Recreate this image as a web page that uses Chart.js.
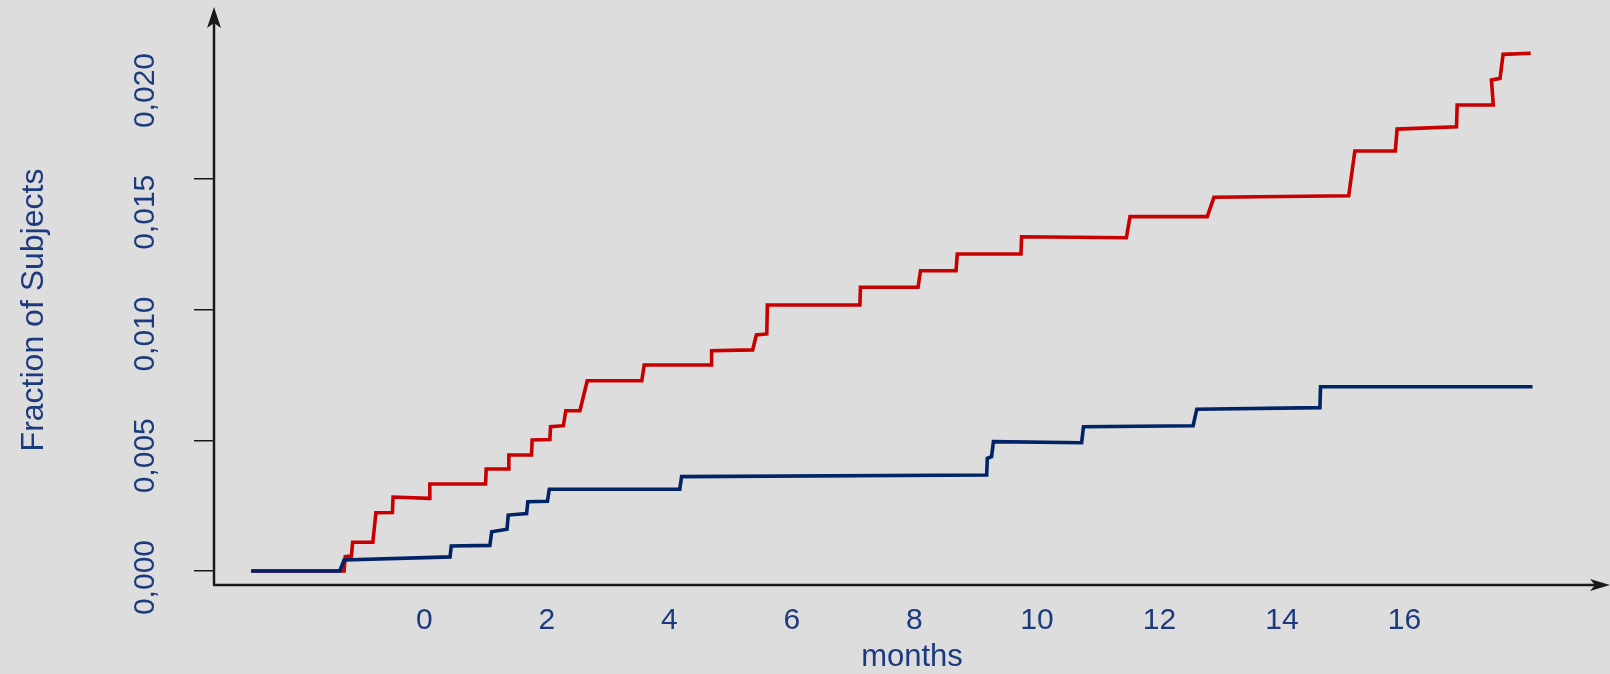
<!DOCTYPE html>
<html>
<head>
<meta charset="utf-8">
<script src="https://cdn.jsdelivr.net/npm/chart.js@4.4.1/dist/chart.umd.min.js"></script>
<style>
  html, body { margin: 0; padding: 0; background: #dddddd; }
  canvas { display: block; }
</style>
</head>
<body>
<canvas id="chart-1" width="1610" height="674"></canvas>
<script>
// months / fraction of subjects
const blueMonths = [-2.82, -1.38, -1.31, 0.42, 0.44, 1.07, 1.10, 1.35, 1.37, 1.67, 1.69, 2.01, 2.04, 4.17, 4.20,
  9.18, 9.19, 9.26, 9.29, 10.73, 10.76, 12.55, 12.61, 14.62, 14.63, 18.09];
const blueValues = [0, 0, 0.00042, 0.00054, 0.00096, 0.00098, 0.00150, 0.00160, 0.00214, 0.00220, 0.00265, 0.00267, 0.00313, 0.00313, 0.00361,
  0.00367, 0.00431, 0.00437, 0.00495, 0.00491, 0.00552, 0.00556, 0.00619, 0.00625, 0.00705, 0.00705];

const redMonths = [-2.83, -1.31, -1.29, -1.19, -1.17, -0.84, -0.79, -0.52, -0.51, 0.08, 0.09, 1.00, 1.01, 1.37, 1.38,
  1.75, 1.76, 2.05, 2.06, 2.27, 2.31, 2.54, 2.66, 3.55, 3.59, 4.68, 4.69, 5.36, 5.42, 5.59, 5.60, 7.11, 7.12,
  8.06, 8.10, 8.68, 8.70, 9.74, 9.75, 11.46, 11.52, 12.78, 12.89, 15.09, 15.19, 15.85, 15.88, 16.85, 16.86,
  17.45, 17.42, 17.56, 17.61, 18.06];
const redValues = [0, 0, 0.00055, 0.00057, 0.00110, 0.00110, 0.00223, 0.00224, 0.00283, 0.00278, 0.00333, 0.00333, 0.00390, 0.00390, 0.00444,
  0.00444, 0.00501, 0.00503, 0.00552, 0.00556, 0.00613, 0.00613, 0.00728, 0.00728, 0.00788, 0.00788, 0.00843, 0.00846, 0.00903, 0.00907, 0.01018, 0.01018, 0.01086,
  0.01086, 0.01149, 0.01149, 0.01213, 0.01213, 0.01279, 0.01275, 0.01356, 0.01356, 0.01430, 0.01436, 0.01607, 0.01607, 0.01691, 0.01700, 0.01783,
  0.01783, 0.01879, 0.01885, 0.01977, 0.01981];

const xTicks = [0, 2, 4, 6, 8, 10, 12, 14, 16];
const yTickLabels = [0, 0.005, 0.010, 0.015, 0.020];
const yTickMarks = [0, 0.005, 0.010, 0.015];

const textColor = "#1c3a7e";
const fontFamily = "'Liberation Sans', Arial, sans-serif";

function toPoints(xs, ys) {
  return xs.map((x, i) => ({x: x, y: ys[i]}));
}

function noPadding(scale) {
  scale.paddingTop = 0;
  scale.paddingBottom = 0;
  scale.paddingLeft = 0;
  scale.paddingRight = 0;
}

// axis lines with arrow heads
const arrowAxes = {
  id: "arrowAxes",
  afterDraw(chart) {
    const ctx = chart.ctx;
    const a = chart.chartArea;
    ctx.save();
    ctx.strokeStyle = "#1a1a1a";
    ctx.fillStyle = "#1a1a1a";
    ctx.lineWidth = 2.5;
    ctx.beginPath();
    ctx.moveTo(a.left, a.bottom);
    ctx.lineTo(a.left, 20);
    ctx.moveTo(a.left - 1, a.bottom);
    ctx.lineTo(chart.width - 12, a.bottom);
    ctx.stroke();
    // y arrow
    ctx.beginPath();
    ctx.moveTo(a.left, 7);
    ctx.lineTo(a.left + 7, 28);
    ctx.lineTo(a.left, 23);
    ctx.lineTo(a.left - 7, 28);
    ctx.closePath();
    ctx.fill();
    // x arrow
    ctx.beginPath();
    ctx.moveTo(chart.width, a.bottom);
    ctx.lineTo(chart.width - 20, a.bottom - 6);
    ctx.lineTo(chart.width - 15, a.bottom);
    ctx.lineTo(chart.width - 20, a.bottom + 6);
    ctx.closePath();
    ctx.fill();
    ctx.restore();
  }
};

new Chart(document.getElementById("chart-1"), {
  type: "line",
  data: {
    datasets: [{
      label: "blue",
      data: toPoints(blueMonths, blueValues),
      borderColor: "#002466",
      borderWidth: 3.6,
      pointRadius: 0,
      tension: 0,
      fill: false
    }, {
      label: "red",
      data: toPoints(redMonths, redValues),
      borderColor: "#c80000",
      borderWidth: 3.6,
      pointRadius: 0,
      tension: 0,
      fill: false
    }]
  },
  options: {
    responsive: false,
    animation: false,
    layout: { padding: { top: 35, left: 0, right: 0, bottom: 0 } },
    plugins: {
      legend: { display: false },
      tooltip: { enabled: false }
    },
    scales: {
      x: {
        type: "linear",
        position: "bottom",
        min: -3.433,
        max: 19.355,
        afterBuildTicks: (s) => { s.ticks = xTicks.map(v => ({value: v})); },
        afterFit: (s) => { s.height = 89; noPadding(s); },
        grid: { display: false, drawTicks: false },
        border: { display: false },
        ticks: {
          color: textColor,
          font: { family: fontFamily, size: 30, lineHeight: 1.2 },
          padding: 18,
          maxRotation: 0,
          autoSkip: false,
          callback: (v) => String(v)
        },
        title: {
          display: true,
          text: "months",
          color: textColor,
          font: { family: fontFamily, size: 31, lineHeight: 1 },
          padding: { top: 0, bottom: 1.5 }
        }
      },
      y: {
        type: "linear",
        position: "left",
        weight: 0,
        min: -0.000536,
        max: 0.02051,
        afterBuildTicks: (s) => { s.ticks = yTickMarks.map(v => ({value: v})); },
        afterFit: (s) => { s.width = 20; noPadding(s); },
        grid: { drawOnChartArea: false, drawTicks: true, tickLength: 20, color: "#1a1a1a", lineWidth: 1.5 },
        border: { display: false },
        ticks: { display: false }
      },
      yLabels: {
        type: "linear",
        position: "left",
        weight: 1,
        min: -0.001848,
        max: 0.020739,
        afterBuildTicks: (s) => { s.ticks = yTickLabels.map(v => ({value: v})); },
        afterFit: (s) => { s.width = 194; noPadding(s); },
        grid: { display: false, drawTicks: false },
        border: { display: false },
        ticks: {
          color: textColor,
          font: { family: fontFamily, size: 30, lineHeight: 1.2 },
          minRotation: 90,
          maxRotation: 90,
          padding: 48,
          autoSkip: false,
          callback: (v) => v.toFixed(3).replace(".", ",")
        },
        title: {
          display: true,
          text: "Fraction of Subjects",
          color: textColor,
          font: { family: fontFamily, size: 32, lineHeight: 1.2 },
          padding: { top: 15, bottom: 0 }
        }
      }
    }
  },
  plugins: [arrowAxes]
});
</script>
</body>
</html>
